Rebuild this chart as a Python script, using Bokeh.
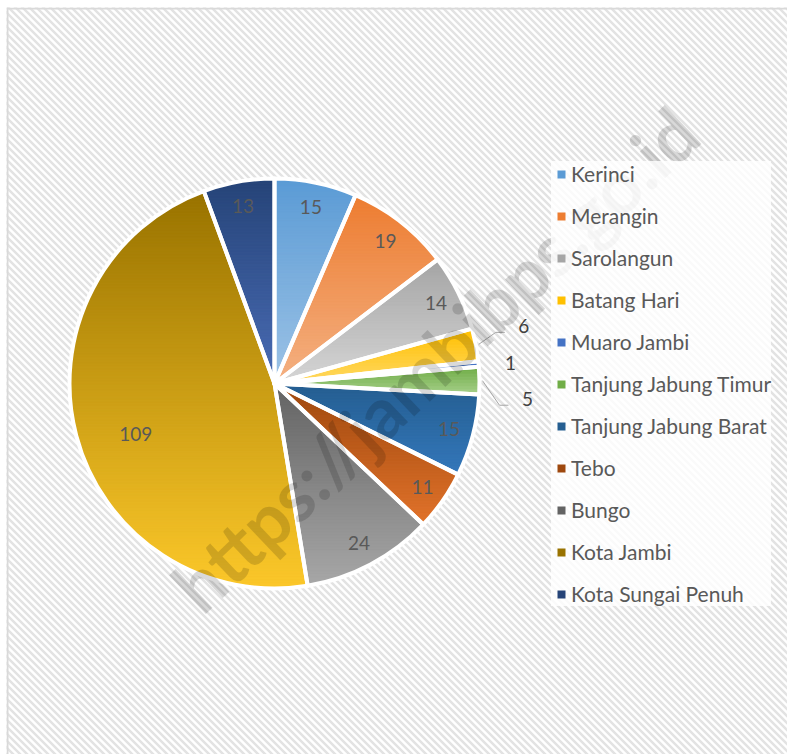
import numpy as np
from bokeh.plotting import figure
from bokeh.models import ColumnDataSource, Legend, LegendItem, Label, Span
from bokeh.core.properties import value
from bokeh.embed import file_html
from bokeh.resources import INLINE

# ---- data ----
regions = ["Kerinci", "Merangin", "Sarolangun", "Batang Hari", "Muaro Jambi",
           "Tanjung Jabung Timur", "Tanjung Jabung Barat", "Tebo", "Bungo",
           "Kota Jambi", "Kota Sungai Penuh"]
counts = [15, 19, 14, 6, 1, 5, 15, 11, 24, 109, 13]
colors = ["#71a8dc", "#f0945a", "#bdbdbd", "#ffc930", "#4472c4", "#88be66",
          "#2c69a2", "#c25d1c", "#7f7f7f", "#cfa218", "#33548f"]
top_colors = ["#5b9bd5", "#ed7d31", "#a5a5a5", "#ffc000", "#4472c4", "#70ad47",
              "#255e91", "#9e480e", "#636363", "#997300", "#264478"]
bottom_colors = ["#9dc3e6", "#f4b183", "#d6d6d6", "#ffd966", "#6f93d6", "#a9d18e",
                 "#3478bb", "#e2732b", "#a8a8a8", "#fcc82a", "#4a6cb5"]
watermark = "https://jambibps.go.id"

# ---- layout ----
W, H = 781, 747
CX, CY, R = 268, 371, 205
FONT = value("Lato")

p = figure(width=787, height=754, x_range=(0, W), y_range=(0, H),
           x_axis_type=None, y_axis_type=None, output_backend="svg",
           toolbar_location=None, min_border_left=6, min_border_top=7,
           min_border_right=0, min_border_bottom=0)
p.outline_line_color = None
p.background_fill_color = "white"
p.border_fill_color = "white"

# striped chart background (clipped by the frame)
cs = np.arange(-14, W + H + 14, 7.0)
p.segment(x0=np.full(len(cs), -20.0), y0=cs + 20, x1=np.full(len(cs), W + 20.0),
          y1=cs - W - 20, line_color="#e3e3e3", line_width=2.5, level="underlay")
p.add_layout(Span(location=1, dimension="height", line_color="#d9d9d9", line_width=2))
p.add_layout(Span(location=H - 1, dimension="width", line_color="#d9d9d9", line_width=2))

total = float(sum(counts))
cum = np.concatenate([[0], np.cumsum(counts)])
start = np.pi / 2 - 2 * np.pi * cum[:-1] / total
end = np.pi / 2 - 2 * np.pi * cum[1:] / total
mid = (start + end) / 2

src = ColumnDataSource(dict(start=start, end=end, color=colors, name=regions, count=counts))
p.wedge(x=CX, y=CY, radius=R, start_angle="start", end_angle="end", direction="clock",
        fill_color="color", line_color=None, source=src)


# vertical gradient inside each slice (bands clipped to the slice polygon)
def hex2rgb(h):
    return np.array([int(h[k:k + 2], 16) for k in (1, 3, 5)], dtype=float)


def clip(poly, yv, keep_above):
    out = []
    n = len(poly)
    for k in range(n):
        (x1, y1), (x2, y2) = poly[k - 1], poly[k]
        in1 = (y1 >= yv) if keep_above else (y1 <= yv)
        in2 = (y2 >= yv) if keep_above else (y2 <= yv)
        if in2:
            if not in1:
                t = (yv - y1) / (y2 - y1)
                out.append((x1 + t * (x2 - x1), yv))
            out.append((x2, y2))
        elif in1:
            t = (yv - y1) / (y2 - y1)
            out.append((x1 + t * (x2 - x1), yv))
    return out


gx, gy, gc = [], [], []
for i in range(len(counts)):
    m = max(4, int(abs(start[i] - end[i]) * 60))
    a = np.linspace(start[i], end[i], m)
    poly = [(CX, CY)] + [(CX + R * np.cos(t), CY + R * np.sin(t)) for t in a]
    ys = [q[1] for q in poly]
    ymin, ymax = min(ys), max(ys)
    nb = max(2, int((ymax - ymin) / 3))
    edges = np.linspace(ymin, ymax, nb + 1)
    ct, cb = hex2rgb(top_colors[i]), hex2rgb(bottom_colors[i])
    for j in range(nb):
        piece = clip(clip(poly, edges[j] - 0.3, True), edges[j + 1] + 0.3, False)
        if len(piece) < 3:
            continue
        t = ((edges[j] + edges[j + 1]) / 2 - ymin) / (ymax - ymin)
        c = ct * t + cb * (1 - t)
        gx.append([q[0] for q in piece])
        gy.append([q[1] for q in piece])
        gc.append("#%02x%02x%02x" % tuple(int(round(v)) for v in c))
p.patches(xs=gx, ys=gy, fill_color=gc, line_color=gc, line_width=0.6)

# white slice borders
p.wedge(x=CX, y=CY, radius=R, start_angle="start", end_angle="end", direction="clock",
        fill_alpha=0, line_color="white", line_width=4, line_join="round", source=src)

# inside labels
ix, iy, it = [], [], []
small = []
for i, v in enumerate(counts):
    if v < 8:
        small.append(i)
        continue
    if v == max(counts):
        ang, rf = mid[i] + 0.09, 0.72
    else:
        ang, rf = mid[i], 0.88
    ix.append(CX + rf * R * np.cos(ang))
    iy.append(CY + rf * R * np.sin(ang))
    it.append(str(v))
p.text(x=ix, y=iy, text=it, text_font=FONT, text_font_size="19px", text_color="#595959",
       text_align="center", text_baseline="middle")

# outside labels with leader lines
ox, oy, ot, lxs, lys = [], [], [], [], []
n = len(small)
for k, i in enumerate(small):
    ex = CX + R * np.cos(mid[i])
    ey = CY + R * np.sin(mid[i])
    shift = (k - (n - 1) / 2) * 18.5
    if shift == 0:
        lx, ly = ex + 32, ey + 1
    else:
        lx, ly = ex + 48, ey - shift
        lxs.append([CX + (R + 3) * np.cos(mid[i]), lx - 28, lx - 19])
        lys.append([CY + (R + 3) * np.sin(mid[i]), ly - 6, ly - 6])
    ox.append(lx); oy.append(ly); ot.append(str(counts[i]))
p.multi_line(xs=lxs, ys=lys, line_color="#a6a6a6", line_width=1)
p.text(x=ox, y=oy, text=ot, text_font=FONT, text_font_size="19px", text_color="#404040",
       text_align="center", text_baseline="middle")

# watermark
p.add_layout(Label(x=428, y=396, text=watermark, angle=np.deg2rad(43.5),
                   text_font="Lato", text_font_style="bold", text_font_size="72px",
                   text_color="black", text_alpha=0.15, text_align="center",
                   text_baseline="middle"))

# legend
items = []
for name, col in zip(regions, top_colors):
    r = p.scatter(x=[np.nan], y=[np.nan], marker="square", fill_color=col, line_color=None)
    items.append(LegendItem(label=name, renderers=[r]))
legend = Legend(items=items, location=(545, 148), padding=10, spacing=17,
                label_height=20, glyph_height=20, glyph_width=20, label_standoff=0,
                label_text_font="Lato", label_text_font_size="21px",
                label_text_color="#595959", background_fill_color="white",
                background_fill_alpha=0.8, border_line_color=None, margin=0)
p.add_layout(legend, "center")

open("out.html", "w").write(file_html(p, INLINE))
